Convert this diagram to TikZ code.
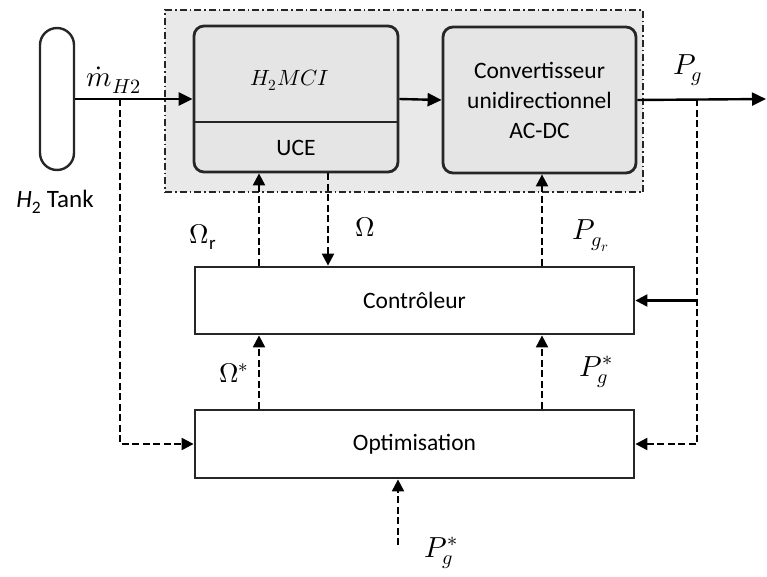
\documentclass[tikz,border=0pt]{standalone}
\usepackage{fontspec}
\usepackage{unicode-math}
\setmainfont{Carlito}
\setmathfont{Latin Modern Math}
\usetikzlibrary{arrows.meta}

\tikzset{
  blk/.style={draw=black!85, line width=2.8pt, fill=white, inner sep=0pt},
  rblk/.style={blk, rounded corners=10pt, fill=gray!20},
  flow/.style={line width=2.4pt, -{Triangle[length=14pt,width=13pt]}},
  sig/.style={line width=2.2pt, dash pattern=on 7pt off 3.5pt, -{Triangle[length=12pt,width=12pt]}},
  lbl/.style={font=\fontsize{23.5}{30}\selectfont, inner sep=0pt},
  mlbl/.style={font=\fontsize{27}{29}\selectfont, inner sep=0pt},
  plbl/.style={font=\fontsize{29}{31}\selectfont, inner sep=0pt},
}

\begin{document}
\begin{tikzpicture}[x=1pt, y=-1pt]
\useasboundingbox (0,0) rectangle (767,576);

% shaded region around engine and converter
\node[draw=black!85, fill=gray!17, line width=1.6pt, dash pattern=on 7pt off 3pt on 1.5pt off 3pt,
      minimum width=478pt, minimum height=182pt, inner sep=0pt] (zone) at (404,101) {};

% hydrogen tank
\node[draw=black!85, line width=2.4pt, rounded corners=17pt, minimum width=34pt, minimum height=142pt,
      inner sep=0pt] (tank) at (57,99) {};
\node[lbl, font=\fontsize{25}{30}\selectfont] (tanklbl) at (55,202) {{\itshape H}\textsubscript{2} Tank};

% engine block with its control unit
\node[rblk, minimum width=204pt, minimum height=146pt] (eng) at (296,99) {};
\draw[line width=2.8pt, black!85] (eng.west |- 0,122) -- (eng.east |- 0,122);
\node[font=\fontsize{22}{24}\selectfont, inner sep=0pt] (englbl) at (290,80) {$H_2MCI$};
\node[lbl] (ucelbl) at (296,148) {UCE};

% converter
\node[rblk, minimum width=193pt, minimum height=146pt, align=center, lbl]
  (conv) at (539.5,100) {Convertisseur\\unidirectionnel\\AC-DC};

% controller and optimisation
\node[blk, minimum width=439pt, minimum height=67pt, lbl] (ctrl) at (414.5,300.5) {Contrôleur};
\node[blk, minimum width=439pt, minimum height=68pt, lbl] (opt) at (414.5,444) {Optimisation};

% main power path
\coordinate (out) at (766,99);
\draw[flow] (tank.east) -- (eng.west);
\draw[flow] (eng.east) -- (conv.west);
\draw[flow] (conv.east) -- (out);

% measurement taps
\coordinate (tapL) at (120,99);
\coordinate (tapR) at (697,99);
\draw[sig] (tapL) |- (opt.west);
\draw[sig] (tapR) |- (opt.east);
\draw[flow, line width=2.2pt, -{Triangle[length=12pt,width=12pt]}] (tapR |- ctrl.east) -- (ctrl.east);

% vertical signal columns
\coordinate (xa) at (259,0);
\coordinate (xb) at (328,0);
\coordinate (xc) at (542,0);
\coordinate (xd) at (398,0);
\coordinate (ref) at (398,545);

\draw[sig] (ctrl.north -| xa) -- (eng.south -| xa);
\draw[sig] (eng.south -| xb) -- (ctrl.north -| xb);
\draw[sig] (ctrl.north -| xc) -- (conv.south -| xc);
\draw[sig] (opt.north -| xa) -- (ctrl.south -| xa);
\draw[sig] (opt.north -| xc) -- (ctrl.south -| xc);
\draw[sig] (ref) -- (opt.south -| xd);

% signal labels
\node[font=\fontsize{29}{31}\selectfont, inner sep=0pt] (lm) at (114,80) {$\dot{m}_{H2}$};
\node[plbl] (lpg) at (688,70) {$P_g$};
\node[mlbl] (lor) at (203,237) {$\Omega_{\mathrm{r}}$};
\node[mlbl] (lo) at (365,227) {$\Omega$};
\node[plbl] (lpgr) at (591,236) {$P_{g_r}$};
\node[mlbl] (los) at (234,373) {$\Omega^{*}$};
\node[plbl] (lpgs) at (596,372) {$P_g^{*}$};
\node[plbl] (lpgb) at (441,553) {$P_g^{*}$};
\end{tikzpicture}
\end{document}
